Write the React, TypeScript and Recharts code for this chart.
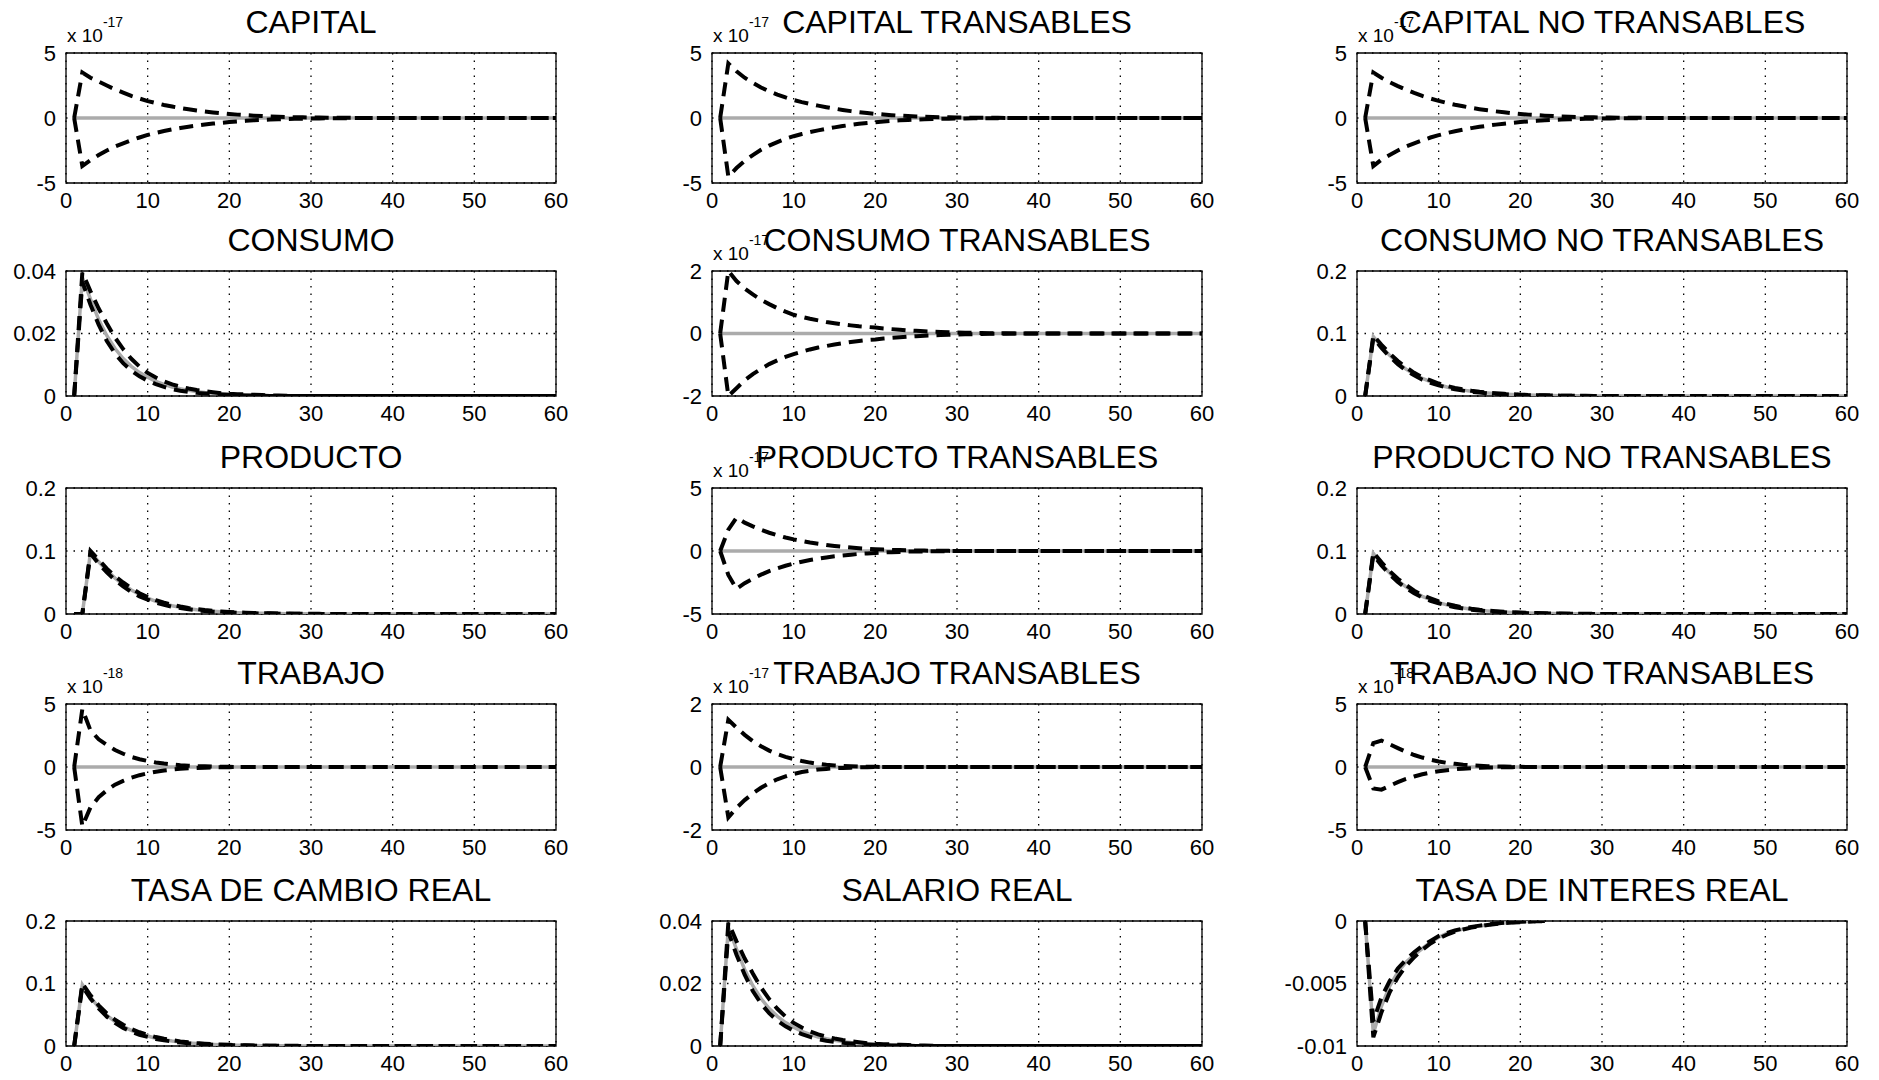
import React from "react";
import { LineChart, Line, XAxis, YAxis, CartesianGrid, ReferenceArea } from "recharts";

const FONT = "'Liberation Sans', Arial, Helvetica, sans-serif";

// periods (x categories)
const PERIODS = [
  1, 2, 3, 4, 5, 6, 7, 8, 9, 10,
  11, 12, 13, 14, 15, 16, 17, 18, 19, 20,
  21, 22, 23, 24, 25, 26, 27, 28, 29, 30,
  31, 32, 33, 34, 35, 36, 37, 38, 39, 40,
  41, 42, 43, 44, 45, 46, 47, 48, 49, 50,
  51, 52, 53, 54, 55, 56, 57, 58, 59, 60,
];
const X_TICKS = [0, 10, 20, 30, 40, 50, 60];
const X_TICK_LABELS = ["0", "10", "20", "30", "40", "50", "60"];

const ZERO_LINE = [
  0, 0, 0, 0, 0, 0, 0, 0, 0, 0,
  0, 0, 0, 0, 0, 0, 0, 0, 0, 0,
  0, 0, 0, 0, 0, 0, 0, 0, 0, 0,
  0, 0, 0, 0, 0, 0, 0, 0, 0, 0,
  0, 0, 0, 0, 0, 0, 0, 0, 0, 0,
  0, 0, 0, 0, 0, 0, 0, 0, 0, 0,
];

// CAPITAL (x 10^-17)
const CAP_HI = [
  0, 3.5, 3.1, 2.8, 2.5, 2.2, 1.95, 1.7, 1.5, 1.3,
  1.15, 1.0, 0.88, 0.77, 0.67, 0.58, 0.5, 0.43, 0.37, 0.31,
  0.26, 0.22, 0.18, 0.15, 0.12, 0.1, 0.08, 0.06, 0.05, 0.04,
  0.03, 0.02, 0.02, 0.01, 0.01, 0, 0, 0, 0, 0,
  0, 0, 0, 0, 0, 0, 0, 0, 0, 0,
  0, 0, 0, 0, 0, 0, 0, 0, 0, 0,
];
const CAP_LO = [
  0, -3.7, -3.25, -2.85, -2.5, -2.2, -1.95, -1.7, -1.5, -1.3,
  -1.15, -1.0, -0.88, -0.77, -0.67, -0.58, -0.5, -0.43, -0.37, -0.31,
  -0.26, -0.22, -0.18, -0.15, -0.12, -0.1, -0.08, -0.06, -0.05, -0.04,
  -0.03, -0.02, -0.02, -0.01, -0.01, 0, 0, 0, 0, 0,
  0, 0, 0, 0, 0, 0, 0, 0, 0, 0,
  0, 0, 0, 0, 0, 0, 0, 0, 0, 0,
];

// CAPITAL TRANSABLES (x 10^-17)
const CAPT_HI = [
  0, 4.2, 3.6, 3.1, 2.7, 2.35, 2.05, 1.8, 1.58, 1.38,
  1.22, 1.08, 0.95, 0.83, 0.72, 0.62, 0.53, 0.45, 0.38, 0.32,
  0.27, 0.22, 0.18, 0.15, 0.12, 0.1, 0.08, 0.06, 0.05, 0.04,
  0.03, 0.02, 0.02, 0.01, 0.01, 0, 0, 0, 0, 0,
  0, 0, 0, 0, 0, 0, 0, 0, 0, 0,
  0, 0, 0, 0, 0, 0, 0, 0, 0, 0,
];
const CAPT_LO = [
  0, -4.5, -3.85, -3.3, -2.85, -2.45, -2.12, -1.85, -1.6, -1.4,
  -1.23, -1.08, -0.95, -0.83, -0.72, -0.62, -0.53, -0.45, -0.38, -0.32,
  -0.27, -0.22, -0.18, -0.15, -0.12, -0.1, -0.08, -0.06, -0.05, -0.04,
  -0.03, -0.02, -0.02, -0.01, -0.01, 0, 0, 0, 0, 0,
  0, 0, 0, 0, 0, 0, 0, 0, 0, 0,
  0, 0, 0, 0, 0, 0, 0, 0, 0, 0,
];

// CAPITAL NO TRANSABLES (x 10^-17)
const CAPN_HI = [
  0, 3.5, 3.1, 2.75, 2.45, 2.18, 1.93, 1.7, 1.5, 1.32,
  1.16, 1.02, 0.9, 0.78, 0.68, 0.59, 0.51, 0.44, 0.37, 0.31,
  0.26, 0.22, 0.18, 0.15, 0.12, 0.1, 0.08, 0.06, 0.05, 0.04,
  0.03, 0.02, 0.02, 0.01, 0.01, 0, 0, 0, 0, 0,
  0, 0, 0, 0, 0, 0, 0, 0, 0, 0,
  0, 0, 0, 0, 0, 0, 0, 0, 0, 0,
];
const CAPN_LO = [
  0, -3.7, -3.2, -2.85, -2.5, -2.2, -1.95, -1.72, -1.5, -1.32,
  -1.16, -1.02, -0.9, -0.78, -0.68, -0.59, -0.51, -0.44, -0.37, -0.31,
  -0.26, -0.22, -0.18, -0.15, -0.12, -0.1, -0.08, -0.06, -0.05, -0.04,
  -0.03, -0.02, -0.02, -0.01, -0.01, 0, 0, 0, 0, 0,
  0, 0, 0, 0, 0, 0, 0, 0, 0, 0,
  0, 0, 0, 0, 0, 0, 0, 0, 0, 0,
];

// CONSUMO
const CON_MID = [
  0, 0.038, 0.031, 0.0245, 0.0193, 0.0152, 0.012, 0.0095, 0.0075, 0.006,
  0.0047, 0.0037, 0.0029, 0.0023, 0.0018, 0.0014, 0.0011, 0.0009, 0.0007, 0.0005,
  0.0004, 0.0003, 0.0002, 0.00015, 0.0001, 0, 0, 0, 0, 0,
  0, 0, 0, 0, 0, 0, 0, 0, 0, 0,
  0, 0, 0, 0, 0, 0, 0, 0, 0, 0,
  0, 0, 0, 0, 0, 0, 0, 0, 0, 0,
];
const CON_HI = [
  0, 0.0395, 0.0335, 0.028, 0.0232, 0.0187, 0.015, 0.0119, 0.0094, 0.0074,
  0.0059, 0.0047, 0.0037, 0.003, 0.0024, 0.0019, 0.0015, 0.0012, 0.0009, 0.0007,
  0.0006, 0.0005, 0.0004, 0.0003, 0.0002, 0.00015, 0.0001, 0, 0, 0,
  0, 0, 0, 0, 0, 0, 0, 0, 0, 0,
  0, 0, 0, 0, 0, 0, 0, 0, 0, 0,
  0, 0, 0, 0, 0, 0, 0, 0, 0, 0,
];
const CON_LO = [
  0, 0.0365, 0.0292, 0.0228, 0.0176, 0.0136, 0.0105, 0.0081, 0.0063, 0.0049,
  0.0038, 0.0029, 0.0022, 0.0017, 0.0013, 0.001, 0.0008, 0.0006, 0.0005, 0.0004,
  0.0003, 0.0002, 0.00015, 0.0001, 0, 0, 0, 0, 0, 0,
  0, 0, 0, 0, 0, 0, 0, 0, 0, 0,
  0, 0, 0, 0, 0, 0, 0, 0, 0, 0,
  0, 0, 0, 0, 0, 0, 0, 0, 0, 0,
];

// CONSUMO TRANSABLES (x 10^-17)
const CONT_HI = [
  0, 2.0, 1.68, 1.44, 1.25, 1.08, 0.94, 0.81, 0.7, 0.6,
  0.53, 0.47, 0.42, 0.37, 0.33, 0.29, 0.26, 0.23, 0.21, 0.19,
  0.16, 0.14, 0.12, 0.1, 0.085, 0.07, 0.06, 0.05, 0.04, 0.03,
  0.025, 0.02, 0.015, 0.01, 0.01, 0.005, 0, 0, 0, 0,
  0, 0, 0, 0, 0, 0, 0, 0, 0, 0,
  0, 0, 0, 0, 0, 0, 0, 0, 0, 0,
];
const CONT_LO = [
  0, -2.0, -1.75, -1.5, -1.3, -1.13, -0.98, -0.86, -0.75, -0.66,
  -0.58, -0.51, -0.45, -0.4, -0.35, -0.31, -0.27, -0.24, -0.21, -0.19,
  -0.16, -0.14, -0.12, -0.1, -0.085, -0.07, -0.06, -0.05, -0.04, -0.03,
  -0.025, -0.02, -0.015, -0.01, -0.01, -0.005, 0, 0, 0, 0,
  0, 0, 0, 0, 0, 0, 0, 0, 0, 0,
  0, 0, 0, 0, 0, 0, 0, 0, 0, 0,
];

// CONSUMO NO TRANSABLES
const CONN_MID = [
  0, 0.095, 0.079, 0.065, 0.053, 0.043, 0.035, 0.028, 0.023, 0.018,
  0.0145, 0.0117, 0.0094, 0.0075, 0.006, 0.0048, 0.0038, 0.003, 0.0024, 0.0019,
  0.0015, 0.0012, 0.0009, 0.0007, 0.0005, 0.0004, 0.0003, 0.0002, 0.0001, 0,
  0, 0, 0, 0, 0, 0, 0, 0, 0, 0,
  0, 0, 0, 0, 0, 0, 0, 0, 0, 0,
  0, 0, 0, 0, 0, 0, 0, 0, 0, 0,
];
const CONN_HI = [
  0, 0.097, 0.082, 0.068, 0.056, 0.046, 0.037, 0.03, 0.025, 0.02,
  0.016, 0.013, 0.0105, 0.0085, 0.0068, 0.0055, 0.0044, 0.0035, 0.0028, 0.0022,
  0.0017, 0.0014, 0.0011, 0.0008, 0.0006, 0.0005, 0.0004, 0.0003, 0.0002, 0.0001,
  0, 0, 0, 0, 0, 0, 0, 0, 0, 0,
  0, 0, 0, 0, 0, 0, 0, 0, 0, 0,
  0, 0, 0, 0, 0, 0, 0, 0, 0, 0,
];
const CONN_LO = [
  0, 0.093, 0.077, 0.063, 0.051, 0.041, 0.033, 0.026, 0.021, 0.017,
  0.0135, 0.0108, 0.0086, 0.0068, 0.0054, 0.0043, 0.0034, 0.0027, 0.0021, 0.0017,
  0.0013, 0.001, 0.0008, 0.0006, 0.0004, 0.0003, 0.0002, 0.0001, 0, 0,
  0, 0, 0, 0, 0, 0, 0, 0, 0, 0,
  0, 0, 0, 0, 0, 0, 0, 0, 0, 0,
  0, 0, 0, 0, 0, 0, 0, 0, 0, 0,
];

// PRODUCTO
const PRO_MID = [
  0, 0, 0.098, 0.083, 0.069, 0.057, 0.047, 0.038, 0.031, 0.025,
  0.02, 0.016, 0.013, 0.0105, 0.0085, 0.0068, 0.0054, 0.0043, 0.0034, 0.0027,
  0.0021, 0.0017, 0.0013, 0.001, 0.0008, 0.0006, 0.0005, 0.0004, 0.0003, 0.0002,
  0.0001, 0, 0, 0, 0, 0, 0, 0, 0, 0,
  0, 0, 0, 0, 0, 0, 0, 0, 0, 0,
  0, 0, 0, 0, 0, 0, 0, 0, 0, 0,
];
const PRO_HI = [
  0, 0, 0.1, 0.086, 0.072, 0.06, 0.05, 0.041, 0.033, 0.027,
  0.022, 0.018, 0.0145, 0.0118, 0.0095, 0.0077, 0.0062, 0.005, 0.004, 0.0032,
  0.0025, 0.002, 0.0016, 0.0012, 0.001, 0.0008, 0.0006, 0.0005, 0.0004, 0.0003,
  0.0002, 0.0001, 0, 0, 0, 0, 0, 0, 0, 0,
  0, 0, 0, 0, 0, 0, 0, 0, 0, 0,
  0, 0, 0, 0, 0, 0, 0, 0, 0, 0,
];
const PRO_LO = [
  0, 0, 0.096, 0.08, 0.066, 0.054, 0.044, 0.035, 0.028, 0.023,
  0.018, 0.0145, 0.0116, 0.0093, 0.0074, 0.0059, 0.0047, 0.0037, 0.0029, 0.0023,
  0.0018, 0.0014, 0.0011, 0.0008, 0.0006, 0.0005, 0.0004, 0.0003, 0.0002, 0.0001,
  0, 0, 0, 0, 0, 0, 0, 0, 0, 0,
  0, 0, 0, 0, 0, 0, 0, 0, 0, 0,
  0, 0, 0, 0, 0, 0, 0, 0, 0, 0,
];

// PRODUCTO TRANSABLES (x 10^-17)
const PROT_HI = [
  0, 1.7, 2.65, 2.25, 1.95, 1.68, 1.45, 1.25, 1.07, 0.92,
  0.79, 0.67, 0.57, 0.48, 0.4, 0.33, 0.27, 0.22, 0.18, 0.14,
  0.11, 0.09, 0.07, 0.05, 0.04, 0.03, 0.02, 0.015, 0.01, 0.005,
  0, 0, 0, 0, 0, 0, 0, 0, 0, 0,
  0, 0, 0, 0, 0, 0, 0, 0, 0, 0,
  0, 0, 0, 0, 0, 0, 0, 0, 0, 0,
];
const PROT_LO = [
  0, -1.9, -3.0, -2.55, -2.2, -1.88, -1.6, -1.37, -1.17, -1.0,
  -0.85, -0.72, -0.61, -0.51, -0.42, -0.35, -0.29, -0.23, -0.19, -0.15,
  -0.12, -0.09, -0.07, -0.05, -0.04, -0.03, -0.02, -0.015, -0.01, -0.005,
  0, 0, 0, 0, 0, 0, 0, 0, 0, 0,
  0, 0, 0, 0, 0, 0, 0, 0, 0, 0,
  0, 0, 0, 0, 0, 0, 0, 0, 0, 0,
];

// PRODUCTO NO TRANSABLES
const PRON_MID = [
  0, 0.096, 0.079, 0.065, 0.053, 0.043, 0.035, 0.028, 0.023, 0.018,
  0.0145, 0.0117, 0.0094, 0.0075, 0.006, 0.0048, 0.0038, 0.003, 0.0024, 0.0019,
  0.0015, 0.0012, 0.0009, 0.0007, 0.0005, 0.0004, 0.0003, 0.0002, 0.0001, 0,
  0, 0, 0, 0, 0, 0, 0, 0, 0, 0,
  0, 0, 0, 0, 0, 0, 0, 0, 0, 0,
  0, 0, 0, 0, 0, 0, 0, 0, 0, 0,
];
const PRON_HI = [
  0, 0.098, 0.082, 0.068, 0.056, 0.046, 0.037, 0.03, 0.025, 0.02,
  0.016, 0.013, 0.0105, 0.0085, 0.0068, 0.0055, 0.0044, 0.0035, 0.0028, 0.0022,
  0.0017, 0.0014, 0.0011, 0.0008, 0.0006, 0.0005, 0.0004, 0.0003, 0.0002, 0.0001,
  0, 0, 0, 0, 0, 0, 0, 0, 0, 0,
  0, 0, 0, 0, 0, 0, 0, 0, 0, 0,
  0, 0, 0, 0, 0, 0, 0, 0, 0, 0,
];
const PRON_LO = [
  0, 0.094, 0.077, 0.063, 0.051, 0.041, 0.033, 0.026, 0.021, 0.017,
  0.0135, 0.0108, 0.0086, 0.0068, 0.0054, 0.0043, 0.0034, 0.0027, 0.0021, 0.0017,
  0.0013, 0.001, 0.0008, 0.0006, 0.0004, 0.0003, 0.0002, 0.0001, 0, 0,
  0, 0, 0, 0, 0, 0, 0, 0, 0, 0,
  0, 0, 0, 0, 0, 0, 0, 0, 0, 0,
  0, 0, 0, 0, 0, 0, 0, 0, 0, 0,
];

// TRABAJO (x 10^-18)
const TRA_HI = [
  0, 4.6, 2.9, 2.2, 1.75, 1.35, 1.05, 0.8, 0.62, 0.48,
  0.36, 0.27, 0.2, 0.14, 0.1, 0.07, 0.05, 0.03, 0.02, 0.01,
  0, 0, 0, 0, 0, 0, 0, 0, 0, 0,
  0, 0, 0, 0, 0, 0, 0, 0, 0, 0,
  0, 0, 0, 0, 0, 0, 0, 0, 0, 0,
  0, 0, 0, 0, 0, 0, 0, 0, 0, 0,
];
const TRA_LO = [
  0, -4.7, -3.2, -2.4, -1.85, -1.4, -1.1, -0.85, -0.65, -0.5,
  -0.38, -0.28, -0.2, -0.14, -0.1, -0.07, -0.05, -0.03, -0.02, -0.01,
  0, 0, 0, 0, 0, 0, 0, 0, 0, 0,
  0, 0, 0, 0, 0, 0, 0, 0, 0, 0,
  0, 0, 0, 0, 0, 0, 0, 0, 0, 0,
  0, 0, 0, 0, 0, 0, 0, 0, 0, 0,
];

// TRABAJO TRANSABLES (x 10^-17)
const TRAT_HI = [
  0, 1.5, 1.25, 1.02, 0.82, 0.66, 0.52, 0.41, 0.32, 0.25,
  0.19, 0.14, 0.1, 0.07, 0.05, 0.035, 0.025, 0.015, 0.01, 0.005,
  0, 0, 0, 0, 0, 0, 0, 0, 0, 0,
  0, 0, 0, 0, 0, 0, 0, 0, 0, 0,
  0, 0, 0, 0, 0, 0, 0, 0, 0, 0,
  0, 0, 0, 0, 0, 0, 0, 0, 0, 0,
];
const TRAT_LO = [
  0, -1.6, -1.3, -1.05, -0.84, -0.66, -0.51, -0.39, -0.3, -0.22,
  -0.16, -0.12, -0.08, -0.06, -0.04, -0.03, -0.02, -0.01, -0.005, 0,
  0, 0, 0, 0, 0, 0, 0, 0, 0, 0,
  0, 0, 0, 0, 0, 0, 0, 0, 0, 0,
  0, 0, 0, 0, 0, 0, 0, 0, 0, 0,
  0, 0, 0, 0, 0, 0, 0, 0, 0, 0,
];

// TRABAJO NO TRANSABLES (x 10^-18)
const TRAN_HI = [
  0, 1.9, 2.1, 1.8, 1.5, 1.2, 0.95, 0.75, 0.58, 0.44,
  0.33, 0.25, 0.18, 0.13, 0.09, 0.06, 0.04, 0.03, 0.02, 0.01,
  0, 0, 0, 0, 0, 0, 0, 0, 0, 0,
  0, 0, 0, 0, 0, 0, 0, 0, 0, 0,
  0, 0, 0, 0, 0, 0, 0, 0, 0, 0,
  0, 0, 0, 0, 0, 0, 0, 0, 0, 0,
];
const TRAN_LO = [
  0, -1.7, -1.8, -1.5, -1.2, -0.95, -0.75, -0.58, -0.44, -0.33,
  -0.25, -0.18, -0.13, -0.09, -0.06, -0.04, -0.03, -0.02, -0.01, 0,
  0, 0, 0, 0, 0, 0, 0, 0, 0, 0,
  0, 0, 0, 0, 0, 0, 0, 0, 0, 0,
  0, 0, 0, 0, 0, 0, 0, 0, 0, 0,
  0, 0, 0, 0, 0, 0, 0, 0, 0, 0,
];

// TASA DE CAMBIO REAL
const TCR_MID = [
  0, 0.098, 0.078, 0.062, 0.049, 0.039, 0.031, 0.025, 0.02, 0.016,
  0.0125, 0.01, 0.008, 0.0063, 0.005, 0.004, 0.0032, 0.0025, 0.002, 0.0016,
  0.0012, 0.001, 0.0008, 0.0006, 0.0005, 0.0004, 0.0003, 0.0002, 0.0001, 0,
  0, 0, 0, 0, 0, 0, 0, 0, 0, 0,
  0, 0, 0, 0, 0, 0, 0, 0, 0, 0,
  0, 0, 0, 0, 0, 0, 0, 0, 0, 0,
];
const TCR_HI = [
  0, 0.1, 0.081, 0.065, 0.052, 0.042, 0.034, 0.027, 0.022, 0.018,
  0.0143, 0.0115, 0.0092, 0.0074, 0.0059, 0.0047, 0.0038, 0.003, 0.0024, 0.0019,
  0.0015, 0.0012, 0.001, 0.0008, 0.0006, 0.0005, 0.0004, 0.0003, 0.0002, 0.0001,
  0, 0, 0, 0, 0, 0, 0, 0, 0, 0,
  0, 0, 0, 0, 0, 0, 0, 0, 0, 0,
  0, 0, 0, 0, 0, 0, 0, 0, 0, 0,
];
const TCR_LO = [
  0, 0.096, 0.076, 0.06, 0.047, 0.037, 0.029, 0.023, 0.018, 0.0145,
  0.0113, 0.009, 0.0071, 0.0056, 0.0044, 0.0035, 0.0027, 0.0021, 0.0017, 0.0013,
  0.001, 0.0008, 0.0006, 0.0005, 0.0004, 0.0003, 0.0002, 0.0001, 0, 0,
  0, 0, 0, 0, 0, 0, 0, 0, 0, 0,
  0, 0, 0, 0, 0, 0, 0, 0, 0, 0,
  0, 0, 0, 0, 0, 0, 0, 0, 0, 0,
];

// SALARIO REAL
const SAL_MID = [
  0, 0.038, 0.031, 0.0245, 0.0193, 0.0152, 0.012, 0.0095, 0.0075, 0.006,
  0.0047, 0.0037, 0.0029, 0.0023, 0.0018, 0.0014, 0.0011, 0.0009, 0.0007, 0.0005,
  0.0004, 0.0003, 0.0002, 0.00015, 0.0001, 0, 0, 0, 0, 0,
  0, 0, 0, 0, 0, 0, 0, 0, 0, 0,
  0, 0, 0, 0, 0, 0, 0, 0, 0, 0,
  0, 0, 0, 0, 0, 0, 0, 0, 0, 0,
];
const SAL_HI = [
  0, 0.0395, 0.0335, 0.028, 0.0232, 0.0187, 0.015, 0.0119, 0.0094, 0.0074,
  0.0059, 0.0047, 0.0037, 0.003, 0.0024, 0.0019, 0.0015, 0.0012, 0.0009, 0.0007,
  0.0006, 0.0005, 0.0004, 0.0003, 0.0002, 0.00015, 0.0001, 0, 0, 0,
  0, 0, 0, 0, 0, 0, 0, 0, 0, 0,
  0, 0, 0, 0, 0, 0, 0, 0, 0, 0,
  0, 0, 0, 0, 0, 0, 0, 0, 0, 0,
];
const SAL_LO = [
  0, 0.0365, 0.0292, 0.0228, 0.0176, 0.0136, 0.0105, 0.0081, 0.0063, 0.0049,
  0.0038, 0.0029, 0.0022, 0.0017, 0.0013, 0.001, 0.0008, 0.0006, 0.0005, 0.0004,
  0.0003, 0.0002, 0.00015, 0.0001, 0, 0, 0, 0, 0, 0,
  0, 0, 0, 0, 0, 0, 0, 0, 0, 0,
  0, 0, 0, 0, 0, 0, 0, 0, 0, 0,
  0, 0, 0, 0, 0, 0, 0, 0, 0, 0,
];

// TASA DE INTERES REAL (lines stop where they leave the axis range)
const TIR_MID = [
  0, -0.009, -0.0068, -0.0052, -0.0041, -0.0033, -0.0027, -0.0022, -0.0017, -0.0013,
  -0.001, -0.0008, -0.00065, -0.0005, -0.0004, -0.0003, -0.00023, -0.00017, -0.00012, -0.00008,
  -0.00005, -0.00003, -0.00001, null, null, null, null, null, null, null,
  null, null, null, null, null, null, null, null, null, null,
  null, null, null, null, null, null, null, null, null, null,
  null, null, null, null, null, null, null, null, null, null,
];
const TIR_HI = [
  0, -0.008, -0.0061, -0.0048, -0.0038, -0.0031, -0.0025, -0.002, -0.0016, -0.0012,
  -0.00095, -0.00075, -0.0006, -0.00047, -0.00037, -0.00028, -0.0002, -0.00015, -0.0001, -0.00006,
  -0.00003, -0.00001, 0, null, null, null, null, null, null, null,
  null, null, null, null, null, null, null, null, null, null,
  null, null, null, null, null, null, null, null, null, null,
  null, null, null, null, null, null, null, null, null, null,
];
const TIR_LO = [
  0, -0.0093, -0.0073, -0.0057, -0.0045, -0.0036, -0.0029, -0.0023, -0.0018, -0.0014,
  -0.0011, -0.00085, -0.00068, -0.00053, -0.00042, -0.00032, -0.00024, -0.00018, -0.00013, -0.00009,
  -0.00006, -0.00003, -0.00001, null, null, null, null, null, null, null,
  null, null, null, null, null, null, null, null, null, null,
  null, null, null, null, null, null, null, null, null, null,
  null, null, null, null, null, null, null, null, null, null,
];

// y-axis tick sets
const T_5 = [-5, 0, 5];
const L_5 = ["-5", "0", "5"];
const T_2 = [-2, 0, 2];
const L_2 = ["-2", "0", "2"];
const T_004 = [0, 0.02, 0.04];
const L_004 = ["0", "0.02", "0.04"];
const T_02 = [0, 0.1, 0.2];
const L_02 = ["0", "0.1", "0.2"];
const T_001 = [-0.01, -0.005, 0];
const L_001 = ["-0.01", "-0.005", "0"];

const PANELS = [
  { title: "CAPITAL", exp: "-17", domain: [-5, 5], ticks: T_5, labels: L_5, mid: ZERO_LINE, lo: CAP_LO, hi: CAP_HI },
  { title: "CAPITAL TRANSABLES", exp: "-17", domain: [-5, 5], ticks: T_5, labels: L_5, mid: ZERO_LINE, lo: CAPT_LO, hi: CAPT_HI },
  { title: "CAPITAL NO TRANSABLES", exp: "-17", domain: [-5, 5], ticks: T_5, labels: L_5, mid: ZERO_LINE, lo: CAPN_LO, hi: CAPN_HI },
  { title: "CONSUMO", exp: null, domain: [0, 0.04], ticks: T_004, labels: L_004, mid: CON_MID, lo: CON_LO, hi: CON_HI },
  { title: "CONSUMO TRANSABLES", exp: "-17", domain: [-2, 2], ticks: T_2, labels: L_2, mid: ZERO_LINE, lo: CONT_LO, hi: CONT_HI },
  { title: "CONSUMO NO TRANSABLES", exp: null, domain: [0, 0.2], ticks: T_02, labels: L_02, mid: CONN_MID, lo: CONN_LO, hi: CONN_HI },
  { title: "PRODUCTO", exp: null, domain: [0, 0.2], ticks: T_02, labels: L_02, mid: PRO_MID, lo: PRO_LO, hi: PRO_HI },
  { title: "PRODUCTO TRANSABLES", exp: "-17", domain: [-5, 5], ticks: T_5, labels: L_5, mid: ZERO_LINE, lo: PROT_LO, hi: PROT_HI },
  { title: "PRODUCTO NO TRANSABLES", exp: null, domain: [0, 0.2], ticks: T_02, labels: L_02, mid: PRON_MID, lo: PRON_LO, hi: PRON_HI },
  { title: "TRABAJO", exp: "-18", domain: [-5, 5], ticks: T_5, labels: L_5, mid: ZERO_LINE, lo: TRA_LO, hi: TRA_HI },
  { title: "TRABAJO TRANSABLES", exp: "-17", domain: [-2, 2], ticks: T_2, labels: L_2, mid: ZERO_LINE, lo: TRAT_LO, hi: TRAT_HI },
  { title: "TRABAJO NO TRANSABLES", exp: "-18", domain: [-5, 5], ticks: T_5, labels: L_5, mid: ZERO_LINE, lo: TRAN_LO, hi: TRAN_HI },
  { title: "TASA DE CAMBIO REAL", exp: null, domain: [0, 0.2], ticks: T_02, labels: L_02, mid: TCR_MID, lo: TCR_LO, hi: TCR_HI },
  { title: "SALARIO REAL", exp: null, domain: [0, 0.04], ticks: T_004, labels: L_004, mid: SAL_MID, lo: SAL_LO, hi: SAL_HI },
  { title: "TASA DE INTERES REAL", exp: null, domain: [-0.01, 0], ticks: T_001, labels: L_001, mid: TIR_MID, lo: TIR_LO, hi: TIR_HI },
];

// layout
const COL_LEFT = [66, 712, 1357];
const PLOT_W = 490;
const ROW_TOP = [53, 271, 488, 704, 921];
const ROW_H = [130, 125, 126, 126, 125];
const YW = 80;
const MT = 16;
const MR = 24;
const XH = 40;

function Panel({ p, idx }: { p: any; idx: number }) {
  const col = idx % 3;
  const row = Math.floor(idx / 3);
  const h = ROW_H[row];
  const data = PERIODS.map((t, i) => ({ t, mid: p.mid[i], lo: p.lo[i], hi: p.hi[i] }));
  const tickStyle = { fontSize: 22, fill: "#000", fontFamily: FONT };
  return (
    <div style={{ position: "absolute", left: COL_LEFT[col] - YW, top: ROW_TOP[row] - MT }}>
      <LineChart
        width={YW + PLOT_W + MR}
        height={MT + h + XH}
        data={data}
        margin={{ top: MT, right: MR, bottom: 0, left: 0 }}
      >
        <CartesianGrid stroke="#000" strokeWidth={1.3} strokeDasharray="1.5 6" />
        <XAxis
          type="number"
          dataKey="t"
          domain={[0, 60]}
          ticks={X_TICKS}
          interval={0}
          height={XH}
          axisLine={false}
          tickLine={false}
          tickSize={6}
          tickMargin={3}
          tick={tickStyle}
          tickFormatter={(v: number, i: number) => X_TICK_LABELS[i]}
        />
        <YAxis
          type="number"
          domain={p.domain}
          ticks={p.ticks}
          interval={0}
          width={YW}
          allowDataOverflow
          axisLine={false}
          tickLine={false}
          tickSize={6}
          tickMargin={4}
          tick={tickStyle}
          tickFormatter={(v: number, i: number) => p.labels[i]}
        />
        <Line type="linear" dataKey="mid" stroke="#ababab" strokeWidth={3.5} dot={false} isAnimationActive={false} connectNulls={false} />
        <Line type="linear" dataKey="lo" stroke="#000" strokeWidth={4} strokeDasharray="14 8" dot={false} isAnimationActive={false} connectNulls={false} />
        <Line type="linear" dataKey="hi" stroke="#000" strokeWidth={4} strokeDasharray="14 8" dot={false} isAnimationActive={false} connectNulls={false} />
        <ReferenceArea
          x1={0}
          x2={60}
          y1={p.domain[0]}
          y2={p.domain[1]}
          fill="none"
          fillOpacity={0}
          stroke="#000"
          strokeWidth={1.3}
          ifOverflow="visible"
        />
      </LineChart>
    </div>
  );
}

export default function App() {
  return (
    <div style={{ position: "absolute", left: 0, top: 0, width: 1879, height: 1080, background: "#fff", overflow: "hidden" }}>
      {PANELS.map((p, i) => (
        <Panel key={p.title} p={p} idx={i} />
      ))}
      <svg width={1879} height={1080} style={{ position: "absolute", left: 0, top: 0, pointerEvents: "none" }}>
        {PANELS.map((p, i) => {
          const col = i % 3;
          const row = Math.floor(i / 3);
          const left = COL_LEFT[col];
          const top = ROW_TOP[row];
          return (
            <g key={p.title}>
              {p.exp && (
                <text x={left + 1} y={top - 11} fontSize={19} fontFamily={FONT} fill="#000">
                  x 10
                  <tspan dy={-15} fontSize={14}>
                    {p.exp}
                  </tspan>
                </text>
              )}
              <text
                x={left + PLOT_W / 2}
                y={top - 20}
                fontSize={32}
                fontFamily={FONT}
                fill="#000"
                textAnchor="middle"
              >
                {p.title}
              </text>
            </g>
          );
        })}
      </svg>
    </div>
  );
}
